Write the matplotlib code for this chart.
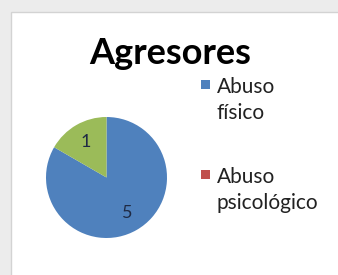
import matplotlib.pyplot as plt
from matplotlib.patches import Rectangle

# datos
categorias = ["Abuso\nfísico", "Abuso\npsicológico", "Otro"]
valores = [5, 0, 1]
colores = ["#4f81bd", "#c0504d", "#9bbb59"]
en_leyenda = [0, 1]

plt.rcParams["font.family"] = ["Lato", "DejaVu Sans"]

fig = plt.figure(figsize=(3.38, 2.75), dpi=100)
fig.patch.set_facecolor("#ececec")

# recuadro blanco del gráfico
fig.patches.append(Rectangle((11 / 338, -0.01), 1.0, (275 - 12) / 275 + 0.01,
                             transform=fig.transFigure, facecolor="white",
                             edgecolor="#d3d3d3", linewidth=1.0, zorder=-5))

ax = fig.add_axes([46 / 338, 37 / 275, 121 / 338, 121 / 275])
ax.set_facecolor("none")
total = sum(valores)
wedges, textos, pcts = ax.pie(
    valores,
    colors=colores,
    startangle=90,
    counterclock=False,
    autopct=lambda p: f"{round(p * total / 100):d}" if p > 0 else "",
    pctdistance=0.68,
    wedgeprops=dict(linewidth=0),
    textprops=dict(fontsize=13, color="#1f2a44"),
)
ax.set_xlim(-1, 1)
ax.set_ylim(-1, 1)
ax.set_aspect("equal")

fig.text(170 / 338, 1 - 54 / 275, "Agresores", ha="center", va="center",
         fontsize=26, fontweight="bold", color="black")

# leyenda (marcador alineado con la primera línea)
y0 = 1 - 84 / 275
paso = 90 / 275
for k, i in enumerate(en_leyenda):
    y = y0 - k * paso
    fig.patches.append(Rectangle((201 / 338, y - 4.5 / 275), 9 / 338, 9 / 275,
                                 transform=fig.transFigure,
                                 facecolor=colores[i], edgecolor="none"))
    fig.text(217 / 338, y + 7 / 275, categorias[i], ha="left", va="top",
             fontsize=15, color="#222222", linespacing=1.4)

fig.savefig("out.png", dpi=100)
